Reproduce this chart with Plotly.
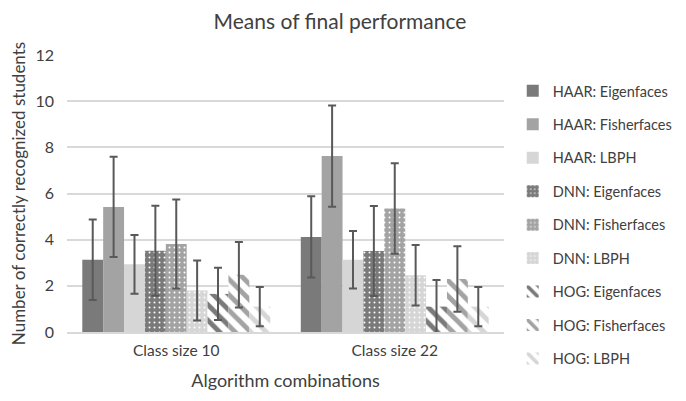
import plotly.graph_objects as go

categories = ["Class size 10", "Class size 22"]
series_names = ["HAAR: Eigenfaces", "HAAR: Fisherfaces", "HAAR: LBPH",
                "DNN: Eigenfaces", "DNN: Fisherfaces", "DNN: LBPH",
                "HOG: Eigenfaces", "HOG: Fisherfaces", "HOG: LBPH"]
means_class10 = [3.13, 5.42, 2.93, 3.52, 3.81, 1.80, 1.65, 2.48, 1.10]
means_class22 = [4.12, 7.62, 3.13, 3.51, 5.35, 2.46, 1.10, 2.30, 1.10]
errors_class10 = [1.74, 2.17, 1.27, 1.95, 1.93, 1.30, 1.13, 1.42, 0.85]
errors_class22 = [1.76, 2.19, 1.25, 1.95, 1.96, 1.31, 1.15, 1.42, 0.85]
y_ticks = [0, 2, 4, 6, 8, 10, 12]

shades = ["#7a7a7a", "#a3a3a3", "#d6d6d6"]
FONT = "Lato, 'Open Sans', sans-serif"

fig = go.Figure()
for i, name in enumerate(series_names):
    shade = shades[i % 3]
    group = i // 3
    if group == 0:
        marker = dict(color=shade, line=dict(width=0))
    elif group == 1:
        marker = dict(color=shade, line=dict(width=0),
                      pattern=dict(shape=".", fgcolor="white", bgcolor=shade,
                                   size=5, solidity=0.12, fillmode="replace"))
    else:
        marker = dict(color=shade, line=dict(width=0),
                      pattern=dict(shape="\\", fgcolor=shade, bgcolor="white",
                                   size=11, solidity=0.45, fillmode="replace"))
    fig.add_trace(go.Bar(
        name=name, x=categories, y=[means_class10[i], means_class22[i]],
        marker=marker, legendgroup=name,
        error_y=dict(type="data", array=[errors_class10[i], errors_class22[i]],
                     color="#595959", thickness=2, width=4),
    ))

fig.update_layout(
    width=686, height=401,
    margin=dict(l=59, r=190, t=47, b=77, autoexpand=False),
    paper_bgcolor="white", plot_bgcolor="white",
    barmode="group", bargap=0.14, bargroupgap=0,
    title=dict(text="Means of final performance", x=0.484, xref="container",
               xanchor="center", y=0.966, yref="container", yanchor="middle",
               font=dict(family=FONT, size=21, color="#404040")),
    font=dict(family=FONT, color="#404040"),
    xaxis=dict(showgrid=False, showline=True, linecolor="#d9d9d9", linewidth=1.5,
               tickfont=dict(size=15.5, color="#404040"), ticks="",
               ticklabelstandoff=4, automargin=False,
               title=dict(text="Algorithm combinations", standoff=16,
                          font=dict(size=18, color="#404040"))),
    yaxis=dict(range=[0, 12], tickvals=y_ticks, showgrid=True,
               gridcolor="#d9d9d9", gridwidth=1.5, zeroline=False,
               tickfont=dict(size=16, color="#404040"), ticks="",
               ticklabelstandoff=12, automargin=False,
               title=dict(text="Number of correctly recognized students", standoff=6,
                          font=dict(size=17, color="#404040"))),
    legend=dict(x=1.02, xanchor="left", y=0.928, yanchor="top",
                font=dict(size=14.5, color="#404040"), tracegroupgap=11.6,
                itemwidth=30, bgcolor="rgba(0,0,0,0)"),
)

try:
    fig.update_layout(legend_maxheight=340)
except Exception:
    pass

fig.write_html("out.html")
